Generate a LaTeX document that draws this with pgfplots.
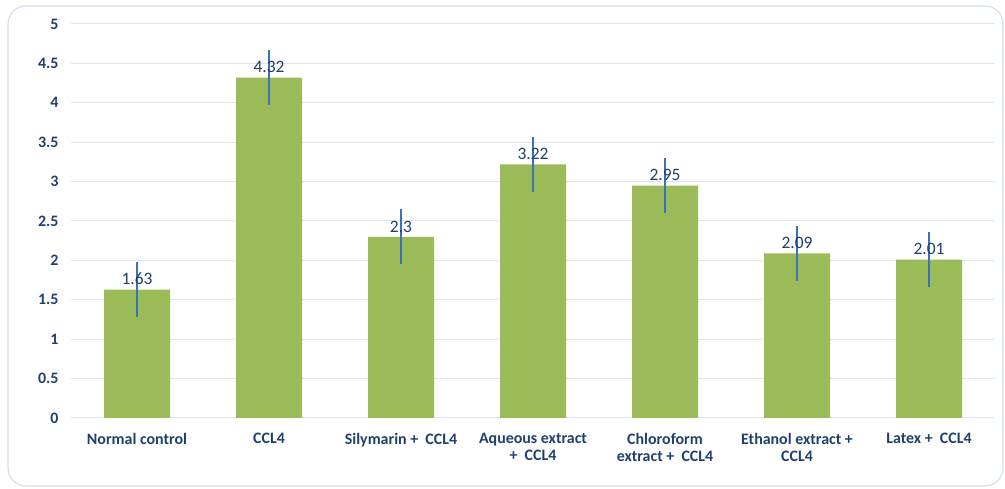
\documentclass[border=0pt]{standalone}
\usepackage{pgfplots}
\pgfplotsset{compat=1.18}
\usepackage{fontspec}
\setmainfont{Carlito}
\definecolor{barg}{HTML}{9BBB59}
\definecolor{errb}{HTML}{3A72B8}
\definecolor{txt}{HTML}{1F3F6F}
\definecolor{gridc}{HTML}{DDE7F3}
\definecolor{framec}{HTML}{D3E0F0}
\begin{document}
\begin{tikzpicture}[x=1bp,y=1bp]
\useasboundingbox (0,0) rectangle (1005,489);
\draw[framec, line width=1.2bp, rounded corners=18bp] (8,3) rectangle (1003,483);
\begin{axis}[
    at={(71bp,71bp)}, anchor=south west,
    scale only axis, width=924bp, height=394bp,
    xmin=-0.5, xmax=6.5, ymin=0, ymax=5,
    ytick={0,0.5,...,5},
    xtick=data,
    xticklabels={Normal control, CCL4, Silymarin +\ \ CCL4,
      {Aqueous extract\\+\ \ CCL4}, {Chloroform\\extract +\ \ CCL4},
      {Ethanol extract +\\CCL4}, Latex +\ \ CCL4},
    axis x line*=bottom, axis y line*=left,
    x axis line style={gridc, line width=1bp, -},
    y axis line style={draw=none},
    major tick length=0pt,
    ymajorgrids, grid style={gridc, line width=1bp},
    /pgf/number format/assume math mode=true,
    yticklabel style={font=\fontsize{16}{18}\selectfont\bfseries, text=txt, xshift=-9bp},
    xticklabel style={font=\fontsize{16}{17}\selectfont\bfseries, text=txt, align=center, yshift=-12bp},
    ybar, bar width=66bp,
    nodes near coords,
    every node near coord/.append style={font=\fontsize{17.5}{19}\selectfont, text=txt, yshift=1bp},
    clip=false,
]
\addplot[fill=barg, draw=none,
    error bars/.cd, y dir=both, y explicit, error mark=none,
    error bar style={errb, line width=1.3bp}]
  coordinates {
    (0,1.63) +- (0,0.35)
    (1,4.32) +- (0,0.35)
    (2,2.30) +- (0,0.35)
    (3,3.22) +- (0,0.35)
    (4,2.95) +- (0,0.35)
    (5,2.09) +- (0,0.35)
    (6,2.01) +- (0,0.35)
  };
\end{axis}
\end{tikzpicture}
\end{document}
